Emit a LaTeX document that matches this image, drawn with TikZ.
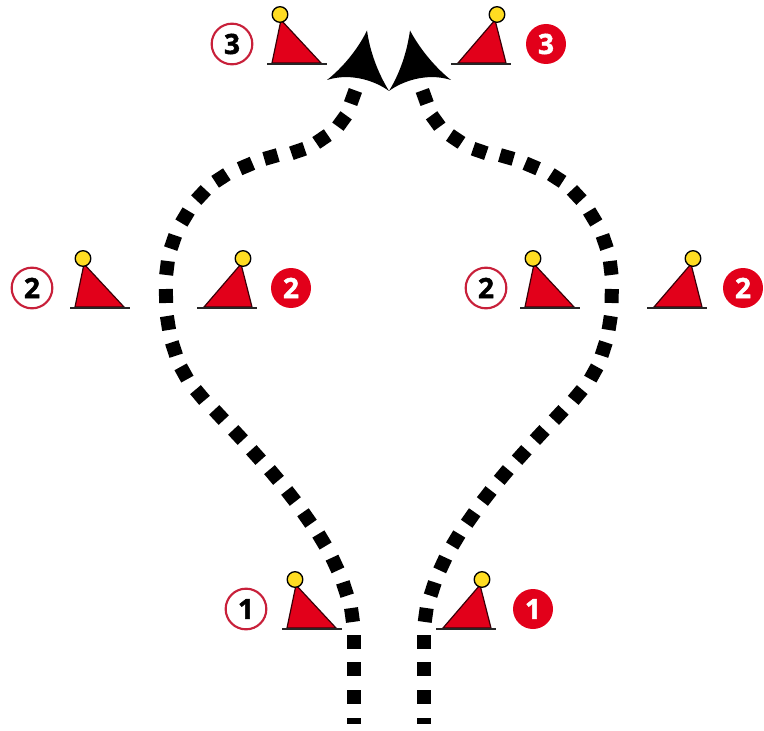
\documentclass[tikz,border=0pt]{standalone}
\usepackage{fontspec}
\setmainfont{Open Sans}
\definecolor{buoyred}{HTML}{E2001A}
\definecolor{buoyyellow}{HTML}{FFDD22}
\definecolor{ringred}{HTML}{C8203A}
\tikzset{
  numbase/.style={circle,inner sep=0pt,minimum size=30pt,font=\addfontfeature{FakeBold=1.6}\bfseries\fontsize{21pt}{21pt}\selectfont},
  numwhite/.style={numbase,draw=ringred,line width=1.6pt,fill=white,text=black,minimum size=30.5pt},
  numred/.style={numbase,fill=buoyred,text=white},
  routesq/.style={fill=black,inner sep=0pt,outer sep=0pt,minimum width=10.5pt,minimum height=10.5pt},
  routeend/.style={routesq,minimum height=4.8pt},
  tiphead/.style={fill=black,draw=none},
  buoybody/.style={fill=buoyred,draw=black!75!buoyred,line width=.9pt,line join=miter},
  buoybase/.style={draw=black!85,line width=1.2pt},
  buoytop/.style={fill=buoyyellow,draw=black,line width=1pt},
  portbuoy/.pic={
    \draw[buoybody] (5,-1) -- (14,-44) -- (54,-1) -- cycle;
    \draw[buoybase] (0,0) -- (60,0);
    \draw[buoytop] (13,-49.5) circle (7.8);
  },
  stbdbuoy/.pic={
    \draw[buoybody] (55,-1) -- (44,-44) -- (7,-1) -- cycle;
    \draw[buoybase] (0,0) -- (60,0);
    \draw[buoytop] (46,-49.5) circle (7.8);
  }
}
\begin{document}
\begin{tikzpicture}[x=.75pt,y=-.75pt]
\useasboundingbox (0,0) rectangle (764,731);
% routes: one square per dash, left route and its mirror image
\node[routeend] (endL) at (354,721) {};
\node[routeend] (endR) at (424,721) {};
\foreach \x/\y/\a [count=\i] in {
  354/697/90, 354/669/90, 354/642/90, 352/615/98, 345/589/108, 335/564/115, 322/540/121,
  307/518/125, 291/496/128, 274/475/130, 256/455/132, 238/435/133, 219/415/133, 200/395/130,
  184/373/119, 174/349/108, 168/323/99, 166/296/91, 167/268/83, 173/242/71, 185/217/59,
  201/195/47, 221/178/33, 246/166/23, 271/157/16, 298/151/19, 322/139/34, 342/121/54, 353/97/70}{
  \node[routesq,rotate=\a] (sqL\i) at (\x,\y) {};
  \node[routesq,rotate=-\a] (sqR\i) at ({777.7-\x},\y) {};
}
% arrowheads
\fill[tiphead] (367,30.5) .. controls (370,52) and (378,73) .. (389,91)
  .. controls (377,82) and (352,72) .. (327,80) .. controls (341,69) and (357,51) .. cycle;
\fill[tiphead] (410,30.5) .. controls (407,52) and (400,73) .. (389,91)
  .. controls (401,82) and (426,72) .. (451,80) .. controls (437,69) and (421,51) .. cycle;
% buoys
\pic at (267,64) {portbuoy};
\pic at (451,64) {stbdbuoy};
\pic at (70,308) {portbuoy};
\pic at (197,308) {stbdbuoy};
\pic at (520,308) {portbuoy};
\pic at (647,308) {stbdbuoy};
\pic at (282,629) {portbuoy};
\pic at (436,629) {stbdbuoy};
% numbers
\node[numwhite] (w3) at (232,44) {3};
\node[numred]   (r3) at (546,44) {3};
\node[numwhite] (w2a) at (32,288) {2};
\node[numred]   (r2a) at (291,288) {2};
\node[numwhite] (w2b) at (486,288) {2};
\node[numred]   (r2b) at (743,288) {2};
\node[numwhite] (w1) at (246,609) {1};
\node[numred]   (r1) at (533,609) {1};
\end{tikzpicture}
\end{document}
